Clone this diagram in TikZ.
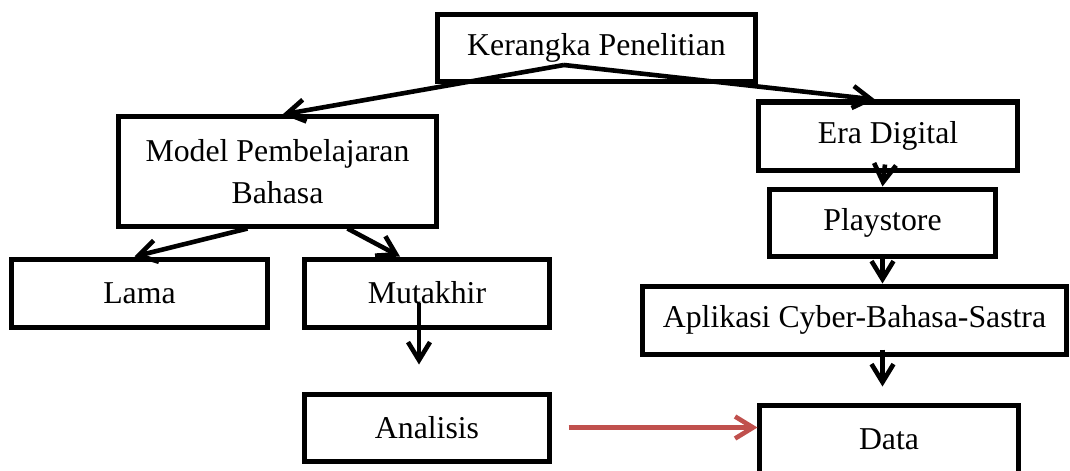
\documentclass[tikz,border=0pt]{standalone}
\usepackage{fontspec}
\setmainfont{Liberation Serif}
\usepackage{tikz}
\usetikzlibrary{arrows.meta, calc}
\definecolor{arrowred}{RGB}{192,80,77}
\tikzset{
  box/.style={rectangle, draw=black, line width=1.25mm, minimum height=1.7cm, align=center, inner sep=2pt, font=\fontsize{22.6}{30}\selectfont},
  arrow/.style={-{Straight Barb[length=4.5mm, width=5.5mm]}, line width=1.15mm},
  redarrow/.style={arrow, draw=arrowred},
}

\begin{document}
\begin{tikzpicture}[x=0.025cm, y=-0.025cm]
\clip (0,0) rectangle (1070,470);
\node[box, minimum width=7.925cm, minimum height=1.65cm] (kp) at (596.5,48) {Kerangka Penelitian};
\node[box, minimum width=7.925cm, minimum height=2.725cm] (model) at (277.5,171.5) {Model Pembelajaran\\Bahasa};
\node[box, minimum width=6.375cm] (lama) at (139.5,293) {Lama};
\node[box, minimum width=6.1cm] (mut) at (427,293) {Mutakhir};
\node[box, minimum width=6.1cm, minimum height=1.675cm] (ana) at (427,427.5) {Analisis};
\node[box, minimum width=6.45cm] (era) at (888,136) {Era Digital};
\node[box, minimum width=5.625cm, minimum height=1.675cm] (play) at (882.5,222.5) {Playstore};
\node[box, minimum width=10.575cm] (app) at (854.5,320) {Aplikasi Cyber-Bahasa-Sastra};
\node[box, minimum width=6.45cm] (data) at (889,439) {Data};
\coordinate (split) at (564,65);
\draw[arrow] (split) -- ($(model.north)+(5,0)$);
\draw[arrow] (split) -- ($(era.north)+(-13,0)$);
\draw[arrow] ($(model.south)+(-30,0)$) -- ($(lama.north)+(-5,0)$);
\draw[arrow] ($(model.south)+(70,0)$) -- ($(mut.north)+(-27,0)$);
\draw[arrow] ($(mut.center)+(-8,10)$) -- ($(ana.north)+(-8,-27)$);
\draw[arrow] ($(era.south)+(-3,-8)$) -- (play.north);
\draw[arrow] (play.south) -- (play.south |- app.north);
\draw[arrow] ($(app.south -| play.south)+(0,-7)$) -- ($(data.north -| play.south)+(0,-16)$);
\draw[redarrow] ([xshift=0.425cm]ana.east) -- (ana.east -| data.west);
\end{tikzpicture}
\end{document}
